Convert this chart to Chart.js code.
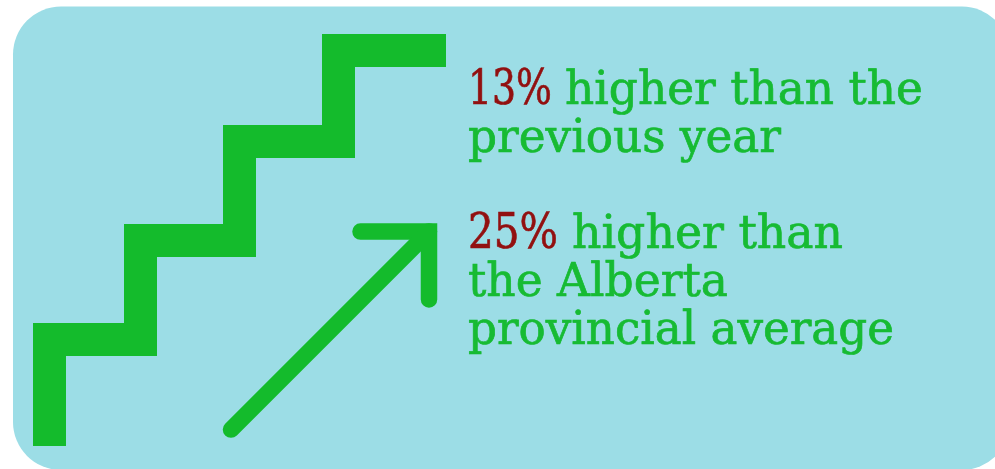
<!DOCTYPE html>
<html>
<head>
<meta charset="utf-8">
<style>
    html, body { margin: 0; padding: 0; background: #fff; overflow: hidden; }
    canvas { display: block; }
</style>
<script src="https://cdn.jsdelivr.net/npm/chart.js@4"></script>
</head>
<body>
<canvas id="stairChart" width="995" height="469"></canvas>
<script>
// Stair line
const stairX = [49.5, 49.5, 140.5, 140.5, 239.5, 239.5, 338.5, 338.5, 446];
const stairY = [446, 339.5, 339.5, 240.5, 240.5, 141.5, 141.5, 50.5, 50.5];

// Arrow head and shaft
const arrowHeadX = [360.5, 429, 429];
const arrowHeadY = [231.6, 231.6, 299.5];
const arrowShaftX = [231, 429];
const arrowShaftY = [429.6, 231.6];

const percentLabels = ['13%', '25%'];
const firstLines = ['higher than the', 'higher than'];
const otherLines = ['previous year', 'the Alberta', 'provincial average'];

const green = '#14bb2c';
const textGreen = '#17bb33';
const darkRed = '#921010';
const panelColor = '#9cdde6';

function toPoints(xs, ys) {
    return xs.map((x, i) => ({ x, y: ys[i] }));
}

const panelPlugin = {
    id: 'panel',
    beforeDraw(chart) {
        const ctx = chart.ctx;
        ctx.save();
        ctx.fillStyle = panelColor;
        ctx.beginPath();
        ctx.roundRect(13, 6.5, 997, 463.5, 48);
        ctx.fill();
        ctx.restore();
    }
};

// stretch each line to the width it has in the picture
function drawLine(ctx, text, x, baseline, right, color, size) {
    ctx.save();
    ctx.font = `${size}px "DejaVu Serif"`;
    const stretch = (right - x) / ctx.measureText(text).width;
    ctx.translate(x, baseline);
    ctx.scale(stretch, 1);
    ctx.fillStyle = color;
    ctx.strokeStyle = color;
    ctx.lineWidth = 0.7;
    ctx.fillText(text, 0, 0);
    ctx.strokeText(text, 0, 0);
    ctx.restore();
}

const textPlugin = {
    id: 'sideText',
    afterDraw(chart) {
        const ctx = chart.ctx;
        ctx.save();
        ctx.textBaseline = 'alphabetic';
        drawLine(ctx, percentLabels[0], 468, 104, 552, darkRed, 49);
        drawLine(ctx, firstLines[0], 565, 104, 923, textGreen, 47);
        drawLine(ctx, otherLines[0], 468, 152, 781, textGreen, 47);
        drawLine(ctx, percentLabels[1], 468, 248, 558, darkRed, 49);
        drawLine(ctx, firstLines[1], 572, 248, 843, textGreen, 47);
        drawLine(ctx, otherLines[1], 468, 296, 728, textGreen, 47);
        drawLine(ctx, otherLines[2], 468, 344, 894, textGreen, 47);
        ctx.restore();
    }
};

new Chart(document.getElementById('stairChart'), {
    type: 'scatter',
    data: {
        datasets: [
            {
                data: toPoints(stairX, stairY),
                showLine: true,
                borderColor: green,
                borderWidth: 33,
                borderCapStyle: 'butt',
                borderJoinStyle: 'miter',
                pointRadius: 0
            },
            {
                data: toPoints(arrowShaftX, arrowShaftY),
                showLine: true,
                borderColor: green,
                borderWidth: 16.5,
                borderCapStyle: 'round',
                pointRadius: 0
            },
            {
                data: toPoints(arrowHeadX, arrowHeadY),
                showLine: true,
                borderColor: green,
                borderWidth: 16.5,
                borderCapStyle: 'round',
                borderJoinStyle: 'miter',
                pointRadius: 0
            }
        ]
    },
    options: {
        responsive: false,
        animation: false,
        clip: false,
        layout: { padding: 0 },
        plugins: { legend: { display: false }, tooltip: { enabled: false } },
        scales: {
            x: { type: 'linear', min: 0, max: 995, display: false },
            y: { type: 'linear', min: 0, max: 469, reverse: true, display: false }
        }
    },
    plugins: [panelPlugin, textPlugin]
});
</script>
</body>
</html>
